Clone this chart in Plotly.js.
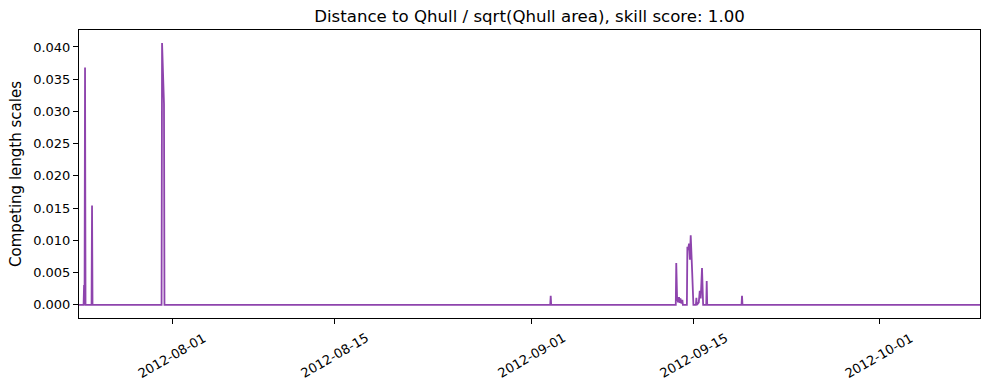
<!DOCTYPE html>
<html>
<head>
<meta charset="utf-8">
<script src="https://cdn.plot.ly/plotly-3.0.1.min.js"></script>
<style>
  html, body { margin: 0; padding: 0; background: #ffffff; }
  #chart { width: 989px; height: 390px; }
</style>
</head>
<body>
<div id="chart"></div>
<script>
// Time stamps (hourly resolution around spikes; zero elsewhere)
var times = [
  "2012-07-23 22:30",
  "2012-07-24 08:00", "2012-07-24 09:00", "2012-07-24 10:00", "2012-07-24 11:00", "2012-07-24 12:00",
  "2012-07-25 00:30", "2012-07-25 01:30", "2012-07-25 02:30",
  "2012-07-31 01:30", "2012-07-31 02:30", "2012-07-31 06:30", "2012-07-31 07:30",
  "2012-09-02 14:20", "2012-09-02 15:20", "2012-09-02 16:20",
  "2012-09-13 10:20", "2012-09-13 11:20", "2012-09-13 13:00", "2012-09-13 15:00",
  "2012-09-13 17:00", "2012-09-13 18:30", "2012-09-13 20:00", "2012-09-13 22:00", "2012-09-14 00:00", "2012-09-14 01:00",
  "2012-09-14 09:20", "2012-09-14 10:20", "2012-09-14 12:00", "2012-09-14 13:40", "2012-09-14 15:30", "2012-09-14 17:15",
  "2012-09-14 20:20", "2012-09-14 22:50",
  "2012-09-15 04:00", "2012-09-15 05:00", "2012-09-15 06:00",
  "2012-09-15 10:00", "2012-09-15 12:00", "2012-09-15 14:00", "2012-09-15 16:40", "2012-09-15 19:00",
  "2012-09-16 01:25", "2012-09-16 02:25", "2012-09-16 03:25",
  "2012-09-19 02:30", "2012-09-19 03:30", "2012-09-19 04:30",
  "2012-10-09 16:20"
];

var values = [
  0,
  0, 0.0031, 0, 0.0368, 0,
  0, 0.0154, 0,
  0, 0.0406, 0.0312, 0,
  0, 0.0014, 0,
  0, 0.0065, 0.0012, 0.0004,
  0.0012, 0.0003, 0.0010, 0.0002, 0.0008, 0,
  0, 0.0090, 0.0085, 0.0095, 0.0070, 0.0108,
  0.0050, 0,
  0, 0.0011, 0,
  0.0004, 0.0022, 0.0010, 0.0057, 0,
  0, 0.0037, 0,
  0, 0.0014, 0,
  0
];

var xTickVals = ["2012-08-01", "2012-08-15", "2012-09-01", "2012-09-15", "2012-10-01"];
var xTickText = ["2012-08-01", "2012-08-15", "2012-09-01", "2012-09-15", "2012-10-01"];
var yTickVals = [0, 0.005, 0.010, 0.015, 0.020, 0.025, 0.030, 0.035, 0.040];

var titleText = "Distance to Qhull / sqrt(Qhull area), skill score: 1.00";
var yTitleText = "Competing length scales";

var FONT = "DejaVu Sans, sans-serif";

var trace = {
  x: times,
  y: values,
  type: "scatter",
  mode: "lines",
  line: { color: "#8E44AD", width: 1.8 },
  hoverinfo: "x+y"
};

// x tick labels: centred on the tick and rotated 30 degrees
var tickAnnotations = xTickVals.map(function (d, i) {
  return {
    x: d, xref: "x",
    y: -0.13, yref: "paper",
    text: xTickText[i],
    textangle: -30,
    showarrow: false,
    xanchor: "center",
    yanchor: "middle",
    font: { family: FONT, size: 13, color: "#000000" }
  };
});

var layout = {
  width: 989,
  height: 390,
  margin: { l: 79, r: 9, t: 30, b: 72, pad: 0 },
  paper_bgcolor: "#ffffff",
  plot_bgcolor: "#ffffff",
  font: { family: FONT, size: 13, color: "#000000" },
  showlegend: false,
  title: {
    text: titleText,
    font: { family: FONT, size: 16.6, color: "#000000" },
    x: 0.5, xref: "paper",
    y: 1, yref: "paper", yanchor: "bottom",
    pad: { b: 8 }
  },
  annotations: tickAnnotations,
  xaxis: {
    type: "date",
    range: [times[0], times[times.length - 1]],
    tickmode: "array",
    tickvals: xTickVals,
    showticklabels: false,
    ticks: "outside",
    ticklen: 5,
    tickwidth: 1,
    tickcolor: "#000000",
    showline: true,
    linecolor: "#000000",
    linewidth: 1,
    mirror: true,
    showgrid: false,
    zeroline: false
  },
  yaxis: {
    range: [-0.00203, 0.04263],
    tickmode: "array",
    tickvals: yTickVals,
    tickformat: ".3f",
    ticks: "outside",
    ticklen: 5,
    tickwidth: 1,
    tickcolor: "#000000",
    showline: true,
    linecolor: "#000000",
    linewidth: 1,
    mirror: true,
    showgrid: false,
    zeroline: false,
    tickfont: { family: FONT, size: 13, color: "#000000" },
    title: {
      text: yTitleText,
      font: { family: FONT, size: 15, color: "#000000" },
      standoff: 7
    }
  }
};

Plotly.newPlot("chart", [trace], layout, { displayModeBar: false, staticPlot: true });
</script>
</body>
</html>
